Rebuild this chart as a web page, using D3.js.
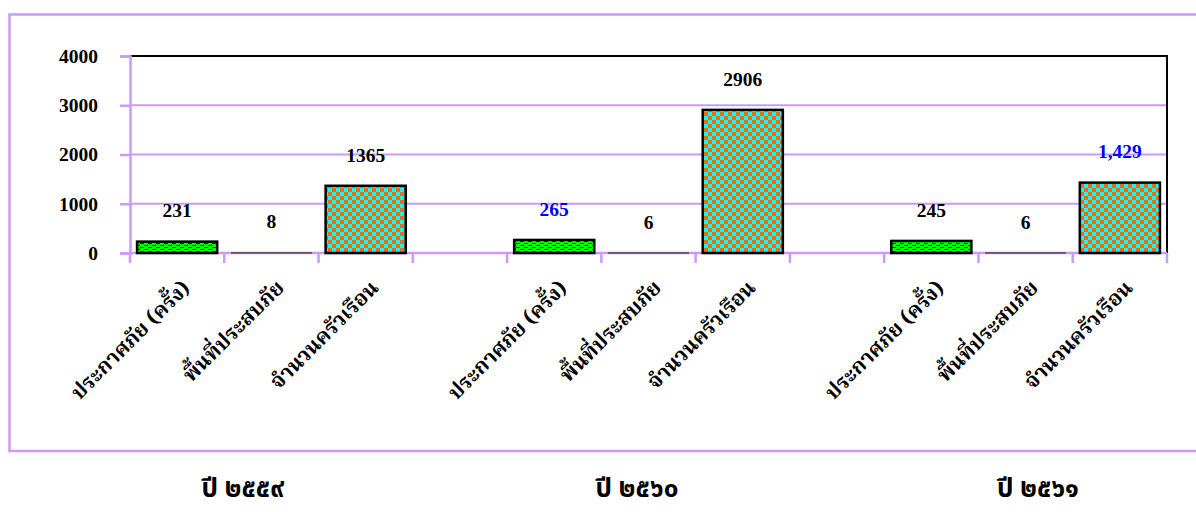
<!DOCTYPE html>
<html><head><meta charset="utf-8">
<script src="https://cdn.jsdelivr.net/npm/d3@7"></script>
<style>
html,body{margin:0;padding:0;background:#fff;}
</style></head>
<body>
<svg id="c" width="1196" height="512"></svg>
<script>
const categories = ["ประกาศภัย (ครั้ง)","พื้นที่ประสบภัย","จำนวนครัวเรือน","",
                    "ประกาศภัย (ครั้ง)","พื้นที่ประสบภัย","จำนวนครัวเรือน","",
                    "ประกาศภัย (ครั้ง)","พื้นที่ประสบภัย","จำนวนครัวเรือน"];
const values = [231, 8, 1365, null, 265, 6, 2906, null, 245, 6, 1429];
const valueLabels = ["231","8","1365","","265","6","2906","","245","6","1,429"];
const labelBlue = [false,false,false,false,true,false,false,false,false,false,true];
const kinds = ["a","b","c","","a","b","c","","a","b","c"];
const yTicks = [0,1000,2000,3000,4000];
const years = ["ปี ๒๕๕๙","ปี ๒๕๖๐","ปี ๒๕๖๑"];
const yearX = [243, 637, 1038];

const svg = d3.select("#c");
const purple = "#cc99ff";
const defs = svg.append("defs");
// green dashed pattern
const pa = defs.append("pattern").attr("id","pa").attr("patternUnits","userSpaceOnUse").attr("width",8).attr("height",4);
pa.append("rect").attr("width",8).attr("height",4).attr("fill","#00ff00");
pa.append("rect").attr("x",0).attr("y",1).attr("width",4).attr("height",1).attr("fill","#0000ff");
pa.append("rect").attr("x",4).attr("y",3).attr("width",4).attr("height",1).attr("fill","#0000ff");
pa.append("rect").attr("x",3).attr("y",0).attr("width",1).attr("height",2).attr("fill","#0000ff").attr("opacity",0.5);
// checker pattern
const pc = defs.append("pattern").attr("id","pc").attr("patternUnits","userSpaceOnUse").attr("width",8).attr("height",8);
pc.append("rect").attr("width",8).attr("height",8).attr("fill","#00ffff");
pc.append("rect").attr("width",4).attr("height",4).attr("fill","#ff6600");
pc.append("rect").attr("x",4).attr("y",4).attr("width",4).attr("height",4).attr("fill","#ff6600");

// outer chart box
svg.append("path").attr("d","M1200,14.5 H9.5 V451 H1200").attr("fill","none").attr("stroke",purple).attr("stroke-width",2.5);

const L=130, R=1167, T=56, B=253;
const x = d3.scaleBand().domain(d3.range(categories.length)).range([L,R]).paddingInner(0.15).paddingOuter(0.075);
const xStep = d3.scaleLinear().domain([0,categories.length]).range([L,R]);
const y = d3.scaleLinear().domain([0,4000]).range([B,T]);

// gridlines
svg.append("g").selectAll("line").data(yTicks.filter(d=>d>0 && d<4000)).join("line")
  .attr("x1",L).attr("x2",R).attr("y1",d=>y(d)).attr("y2",d=>y(d))
  .attr("stroke",purple).attr("stroke-width",2);
// plot area top/right black
svg.append("path").attr("d",`M${L},${T} H${R} V${B}`).attr("fill","none").attr("stroke","#000").attr("stroke-width",2);

// y axis
const yAxis = d3.axisLeft(y).tickValues(yTicks).tickSize(10).tickPadding(22).tickFormat(d3.format("d"));
const ya = svg.append("g").attr("transform",`translate(${L},0)`).call(yAxis);
ya.select(".domain").attr("stroke",purple).attr("stroke-width",2.5);
ya.selectAll(".tick line").attr("stroke",purple).attr("stroke-width",2.5);
ya.selectAll(".tick text").attr("font-family","'Liberation Serif','Times New Roman',serif")
  .attr("font-weight","bold").attr("font-size",19.5).attr("fill","#000");

// x axis line + ticks
svg.append("line").attr("x1",L).attr("x2",R).attr("y1",B).attr("y2",B).attr("stroke",purple).attr("stroke-width",2.5);
svg.append("g").selectAll("line").data(d3.range(categories.length+1)).join("line")
  .attr("x1",d=>xStep(d)).attr("x2",d=>xStep(d)).attr("y1",B).attr("y2",B+10)
  .attr("stroke",purple).attr("stroke-width",2.5);

// bars
const idx = d3.range(categories.length).filter(i=>values[i]!==null);
svg.append("g").selectAll("rect").data(idx).join("rect")
  .attr("x",i=>x(i)).attr("width",x.bandwidth())
  .attr("y",i=>y(values[i])).attr("height",i=>Math.max(0.5,B-y(values[i])))
  .attr("fill",i=>kinds[i]==="a"?"url(#pa)":kinds[i]==="c"?"url(#pc)":"#333")
  .attr("stroke",i=>kinds[i]==="b"?"#555":"#000").attr("stroke-width",i=>kinds[i]==="b"?1:2.5);

// value labels
svg.append("g").selectAll("text").data(idx).join("text")
  .attr("x",i=>x(i)+x.bandwidth()/2).attr("y",i=>y(values[i])-31)
  .attr("dy","0.35em").attr("text-anchor","middle")
  .attr("font-family","'Liberation Serif','Times New Roman',serif").attr("font-weight","bold").attr("font-size",19.5)
  .attr("fill",i=>labelBlue[i]?"#0000ff":"#000")
  .text(i=>valueLabels[i]);

// category labels
svg.append("g").selectAll("text").data(idx).join("text")
  .attr("transform",i=>`translate(${x(i)+x.bandwidth()/2+14},${B+36}) rotate(-45)`)
  .attr("text-anchor","end")
  .attr("font-family","'Noto Serif Thai','Noto Sans Thai','Tahoma',serif").attr("font-weight","bold").attr("font-size",21)
  .attr("fill","#000").text(i=>categories[i]);

// year labels
svg.append("g").selectAll("text").data(years).join("text")
  .attr("x",(d,i)=>yearX[i]).attr("y",497).attr("text-anchor","middle")
  .attr("font-family","'Noto Sans Thai','Tahoma',sans-serif").attr("font-weight","bold").attr("font-size",26)
  .attr("fill","#000").text(d=>d);
</script>
</body></html>
